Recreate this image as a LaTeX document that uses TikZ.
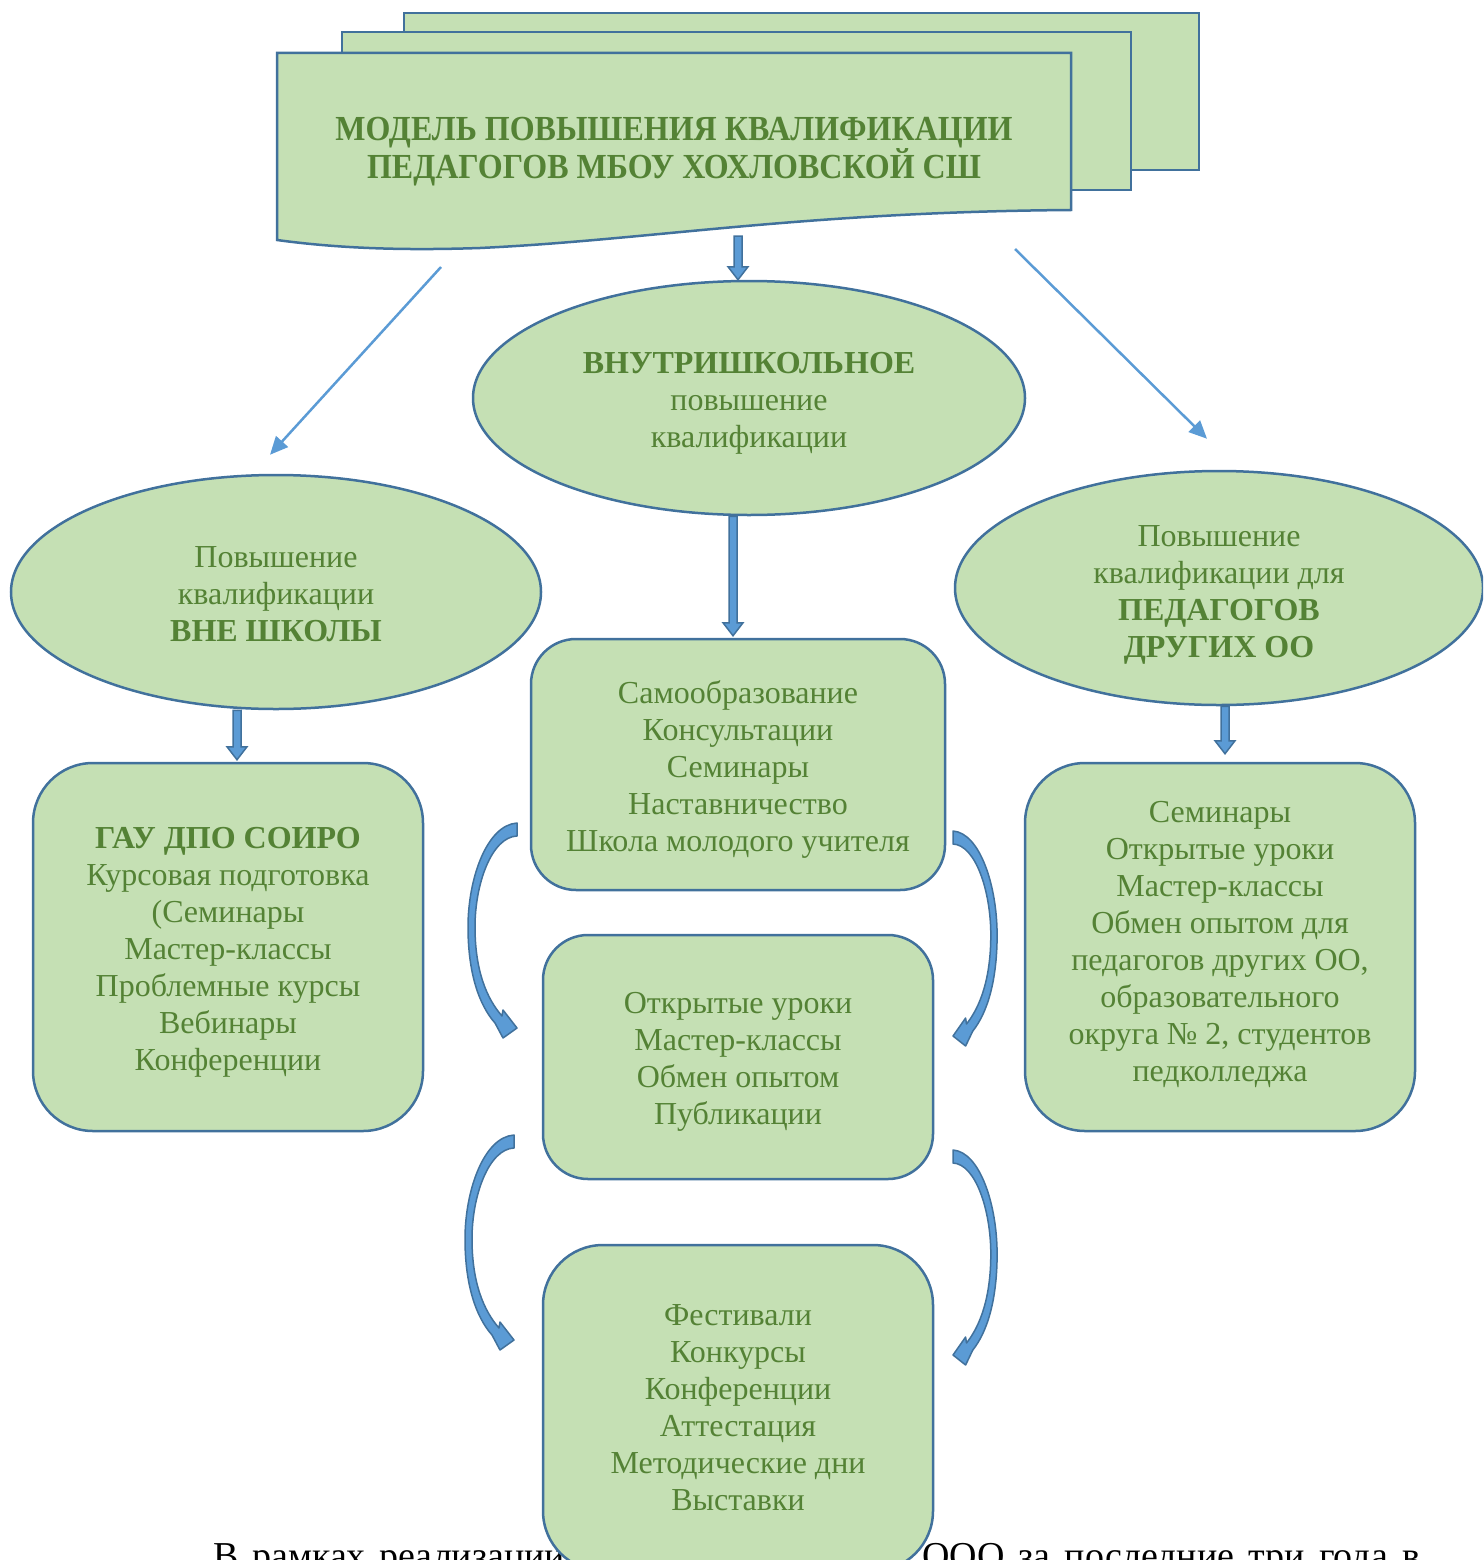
\documentclass[tikz,border=0pt]{standalone}
\usepackage{fontspec}
\setmainfont{Liberation Serif}
\usetikzlibrary{shapes.geometric,arrows.meta,calc}
\definecolor{fillc}{HTML}{C5E0B4}
\definecolor{bordc}{HTML}{41719C}
\definecolor{txtc}{HTML}{548235}
\definecolor{arrc}{HTML}{5B9BD5}
\newcommand\bodyfont{\fontsize{32}{37}\selectfont}
\newcommand\boldfont{\fontsize{32}{37}\selectfont\bfseries}
\newcommand\titlefont{\fontsize{32}{38}\selectfont\bfseries}
\newcommand\parafont{\fontsize{38}{44}\selectfont}
\tikzset{
  shapebase/.style={draw=bordc, fill=fillc, line width=2.5pt},
  ell/.style={shapebase, ellipse, inner sep=0pt},
  rbox/.style={shapebase, rectangle, inner sep=0pt},
  txt/.style={align=center, text=txtc, font=\bodyfont, inner sep=0pt},
  thinarr/.style={draw=arrc, line width=2.5pt, -{Triangle[length=18pt,width=16pt]}},
  blockarr/.style={fill=arrc, draw=bordc, line width=1.5pt, line join=miter},
  curvarr/.style={fill=arrc, draw=bordc, line width=1.5pt, line join=round},
  pagesheet/.style={shapebase, line join=miter},
  plaintext/.style={anchor=base west, font=\parafont, inner sep=0pt, text=black},
}
\newcommand\blockarrow[2]{\path[blockarr] let \p1=#1, \p2=#2 in
  (\x1-4pt,\y1) -- (\x1+4pt,\y1) -- (\x1+4pt,\y2+13pt) -- (\x1+10pt,\y2+13pt) --
  (\x1,\y2) -- (\x1-10pt,\y2+13pt) -- (\x1-4pt,\y2+13pt) -- cycle;}
\newcommand\curvedarrow[1]{\begin{scope}[#1]
  \path[curvarr] (0,0) .. controls (-30,2) and (-49,55) .. (-49,104)
    .. controls (-49,150) and (-38,182) .. (-22,200)
    -- (-14,215) -- (0,205) -- (-14,187) -- (-15,193)
    .. controls (-30,176) and (-42,148) .. (-42,104)
    .. controls (-42,60) and (-25,14) .. (0,13) -- cycle;
\end{scope}}
\begin{document}
\begin{tikzpicture}[x=1pt,y=-1pt]
\useasboundingbox (0,0) rectangle (1483,1560);
\clip (0,0) rectangle (1483,1560);

% bottom body text (partly hidden)
\node[plaintext] (bt1) at (213,1568) {\makebox[352pt][s]{В рамках реализации}};
\node[plaintext] (bt2) at (922,1568) {\makebox[498pt][s]{ООО за последние три года в}};

% title multi-document shape
\path[pagesheet] (404,13) rectangle (1199,170);
\path[pagesheet] (342,32) rectangle (1131,190);
\path[pagesheet] (277,53) -- (1071,53) -- (1071,210)
  .. controls (800,212) and (650,240) .. (480,248)
  .. controls (420,250) and (350,250) .. (277,240) -- cycle;
\node[txt, font=\titlefont] (title) at (674,152)
  {\scalebox{1}[1.1]{МОДЕЛЬ ПОВЫШЕНИЯ КВАЛИФИКАЦИИ}\\\scalebox{1}[1.1]{ПЕДАГОГОВ МБОУ ХОХЛОВСКОЙ СШ}};
\coordinate (titleWave) at (738,236);
\coordinate (titleL) at (441,267);
\coordinate (titleR) at (1015,249);

% ellipses
\node[ell, minimum width=552pt, minimum height=234pt] (ellC) at (749,398) {};
\node[txt] (ellCt) at (749,403) {{\boldfont ВНУТРИШКОЛЬНОЕ}\\повышение\\квалификации};
\node[ell, minimum width=530pt, minimum height=234pt] (ellL) at (276,592) {};
\node[txt] (ellLt) at (276,594.5) {Повышение\\квалификации\\{\boldfont ВНЕ ШКОЛЫ}};
\node[ell, minimum width=528pt, minimum height=234pt] (ellR) at (1219,588) {};
\node[txt] (ellRt) at (1219,594.5) {Повышение\\квалификации для\\{\boldfont ПЕДАГОГОВ}\\{\boldfont ДРУГИХ ОО}};

% boxes
\node[rbox, rounded corners=60pt, minimum width=390pt, minimum height=368pt] (boxL) at (228,947) {};
\node[txt] (boxLt) at (228,952)
  {{\boldfont ГАУ ДПО СОИРО}\\Курсовая подготовка\\(Семинары\\Мастер-классы\\Проблемные курсы\\Вебинары\\Конференции};
\node[rbox, rounded corners=45pt, minimum width=414pt, minimum height=251pt] (boxT) at (738,764.5) {};
\node[txt] (boxTt) at (738,769)
  {Самообразование\\Консультации\\Семинары\\Наставничество\\Школа молодого учителя};
\node[rbox, rounded corners=45pt, minimum width=390pt, minimum height=244pt] (boxM) at (738,1057) {};
\node[txt] (boxMt) at (738,1062) {Открытые уроки\\Мастер-классы\\Обмен опытом\\Публикации};
\node[rbox, rounded corners=60pt, minimum width=390pt, minimum height=326pt] (boxB) at (738,1408) {};
\node[txt] (boxBt) at (738,1407.5)
  {Фестивали\\Конкурсы\\Конференции\\Аттестация\\Методические дни\\Выставки};
\node[rbox, rounded corners=60pt, minimum width=390pt, minimum height=368pt] (boxR) at (1220,947) {};
\node[txt] (boxRt) at (1220,944)
  {Семинары\\Открытые уроки\\Мастер-классы\\Обмен опытом для\\педагогов других ОО,\\образовательного\\округа № 2, студентов\\педколледжа};

% thin arrows
\draw[thinarr] (titleL) -- ($(ellL.north)+(-6,-19)$);
\draw[thinarr] (titleR) -- ($(ellR.north)+(-12,-31)$);

% block arrows
\blockarrow{(titleWave)}{(titleWave |- ellC.north)}
\blockarrow{([xshift=-16pt]ellC.south)}{([xshift=-5pt,yshift=2pt]boxT.north)}
\blockarrow{([xshift=-39pt]ellL.south)}{([yshift=2pt]boxL.north)}
\blockarrow{([xshift=6pt]ellR.south)}{([yshift=8pt]boxR.north)}

% curved arrows
\curvedarrow{shift={(517,823)}}
\curvedarrow{shift={(514,1135)}}
\curvedarrow{shift={(953,831)}, xscale=-0.9}
\curvedarrow{shift={(953,1150)}, xscale=-0.9}
\end{tikzpicture}
\end{document}
